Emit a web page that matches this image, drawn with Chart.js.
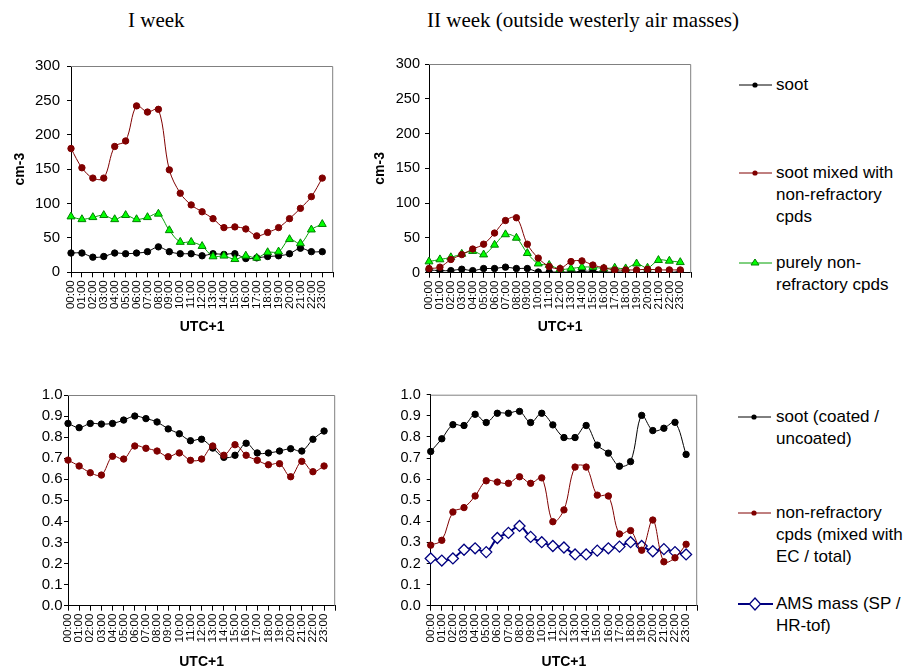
<!DOCTYPE html>
<html lang="en">
<head>
<meta charset="UTF-8">
<title>Soot and non-refractory compounds - diurnal cycles</title>
<script src="https://cdn.jsdelivr.net/npm/chart.js@4.4.1/dist/chart.umd.min.js"></script>
<style>
    body { margin: 0; background: #fff; overflow: hidden; }
    #page { position: relative; width: 912px; height: 666px; font-family: 'Liberation Sans', Arial, sans-serif; }
    .box { position: absolute; }
    .week { position: absolute; font-family: 'Liberation Serif', 'Times New Roman', serif; font-size: 21px; line-height: 21px; color: #000; white-space: nowrap; }
    .leg { position: absolute; font-size: 17px; line-height: 22px; color: #000; }
    .leg svg { position: absolute; top: 0; }
</style>
</head>
<body>
<div id="page">
    <div class="week" style="left:128px; top:10px;">I week</div>
    <div class="week" style="left:427px; top:10px;">II week (outside westerly air masses)</div>

    <canvas id="c1" class="box" style="left:0px; top:50px;" width="350" height="300"></canvas>
    <canvas id="c2" class="box" style="left:370px; top:50px;" width="338" height="300"></canvas>
    <canvas id="c3" class="box" style="left:0px; top:380px;" width="352" height="296"></canvas>
    <canvas id="c4" class="box" style="left:380px; top:380px;" width="334" height="296"></canvas>

    <div id="legends"></div>
</div>

<script>
// hour of day (UTC+1)
const hours = ['00:00', '01:00', '02:00', '03:00', '04:00', '05:00', '06:00', '07:00',
               '08:00', '09:00', '10:00', '11:00', '12:00', '13:00', '14:00', '15:00',
               '16:00', '17:00', '18:00', '19:00', '20:00', '21:00', '22:00', '23:00'];

// number concentrations, cm-3 - week I
const w1Soot  = [28, 28, 22, 23, 28, 27, 28, 30, 37, 30, 27, 27, 24, 27, 26, 27, 20, 21, 23, 24, 27, 35, 30, 30];
const w1Mixed = [180, 152, 137, 137, 183, 191, 242, 233, 237, 149, 115, 98, 88, 78, 65, 66, 63, 53, 58, 65, 78, 93, 110, 137];
const w1Pure  = [81, 77, 80, 83, 77, 83, 77, 80, 85, 61, 44, 44, 38, 23, 24, 19, 24, 21, 29, 30, 48, 42, 62, 70];

// number concentrations, cm-3 - week II
const w2Soot  = [4, 3, 3, 5, 3, 6, 6, 8, 6, 6, 1, 1, 1, 1, 2, 2, 1, 1, 1, 0, 1, 0, 0, 2];
const w2Mixed = [6, 8, 19, 26, 34, 41, 57, 75, 79, 41, 21, 9, 6, 16, 17, 11, 7, 4, 4, 4, 5, 4, 4, 4];
const w2Pure  = [16, 19, 22, 27, 31, 26, 40, 55, 50, 28, 13, 11, 5, 6, 8, 8, 6, 7, 6, 13, 7, 18, 17, 15];

// ratios - week I
const w1SootRatio = [0.865, 0.845, 0.865, 0.862, 0.865, 0.881, 0.900, 0.888, 0.872, 0.839, 0.816, 0.783,
                     0.790, 0.748, 0.704, 0.714, 0.771, 0.725, 0.725, 0.734, 0.745, 0.734, 0.790, 0.829];
const w1NrRatio   = [0.691, 0.663, 0.631, 0.620, 0.709, 0.696, 0.758, 0.747, 0.734, 0.707, 0.725, 0.690,
                     0.696, 0.758, 0.714, 0.764, 0.714, 0.690, 0.669, 0.674, 0.612, 0.685, 0.636, 0.663];

// ratios - week II
const w2SootRatio = [0.731, 0.791, 0.858, 0.854, 0.907, 0.868, 0.912, 0.912, 0.921, 0.868, 0.912, 0.857,
                     0.797, 0.797, 0.854, 0.761, 0.723, 0.661, 0.683, 0.902, 0.830, 0.841, 0.869, 0.717];
const w2NrRatio   = [0.287, 0.310, 0.444, 0.465, 0.520, 0.592, 0.586, 0.580, 0.611, 0.580, 0.606, 0.398,
                     0.454, 0.657, 0.657, 0.524, 0.520, 0.340, 0.356, 0.263, 0.406, 0.208, 0.227, 0.291];
const w2AmsRatio  = [0.224, 0.214, 0.224, 0.265, 0.272, 0.254, 0.321, 0.345, 0.378, 0.326, 0.301, 0.283,
                     0.276, 0.243, 0.243, 0.261, 0.272, 0.280, 0.301, 0.283, 0.258, 0.268, 0.254, 0.243];

const concTicks  = [0, 50, 100, 150, 200, 250, 300];
const ratioTicks = [0, 0.1, 0.2, 0.3, 0.4, 0.5, 0.6, 0.7, 0.8, 0.9, 1.0];

// one empty slot after 23:00 so the axis runs a full day
const axisHours = hours.concat(['']);

Chart.defaults.font.family = "'Liberation Sans', Arial, sans-serif";
Chart.defaults.color = '#000';

const styles = {
    soot:  { borderColor: '#000000', backgroundColor: '#000000', pointBorderColor: '#000000', pointStyle: 'circle', pointRadius: 3.2, borderWidth: 1 },
    mixed: { borderColor: '#800000', backgroundColor: '#800000', pointBorderColor: '#800000', pointStyle: 'circle', pointRadius: 3.2, borderWidth: 1 },
    pure:  { borderColor: '#00a000', backgroundColor: '#00ff00', pointBorderColor: '#008000', pointStyle: 'triangle', pointRadius: 4.6, borderWidth: 1 },
    ams:   { borderColor: '#000080', backgroundColor: '#ffffff', pointBorderColor: '#000080', pointStyle: 'rectRot', pointRadius: 5.5, borderWidth: 2, pointBorderWidth: 1.3 }
};

function series(data, style) {
    return Object.assign({
        data: data,
        tension: 0.35,
        fill: false,
        pointBorderWidth: 1,
        pointBackgroundColor: style.backgroundColor,
        pointHoverRadius: style.pointRadius
    }, style);
}

// gray frame on the top and right of the plot area
const framePlugin = {
    id: 'frame',
    beforeDatasetsDraw(chart) {
        const a = chart.chartArea, ctx = chart.ctx;
        ctx.save();
        ctx.strokeStyle = '#808080';
        ctx.lineWidth = 1;
        ctx.beginPath();
        ctx.moveTo(a.left, a.top + 0.5);
        ctx.lineTo(a.right - 0.5, a.top + 0.5);
        ctx.lineTo(a.right - 0.5, a.bottom);
        ctx.stroke();
        ctx.restore();
    }
};

function makeChart(id, cfg) {
    const yTicks = cfg.yTicks;
    return new Chart(document.getElementById(id), {
        type: 'line',
        data: { labels: axisHours, datasets: cfg.datasets },
        plugins: [framePlugin],
        options: {
            responsive: false,
            animation: false,
            layout: { padding: { top: cfg.padTop, right: cfg.padRight, left: 0, bottom: 0 } },
            plugins: { legend: { display: false }, tooltip: { enabled: false } },
            scales: {
                x: {
                    type: 'category',
                    offset: false,
                    grid: { drawOnChartArea: false, drawTicks: true, tickLength: 5, color: '#000', offset: false },
                    border: { color: '#000', width: 1 },
                    ticks: { autoSkip: false, maxRotation: 90, minRotation: 90, padding: 3, font: { size: 11.5 }, color: '#000' },
                    title: { display: true, text: 'UTC+1', font: { size: 14, weight: 'bold' }, color: '#000', padding: { top: 0, bottom: cfg.xTitlePad } },
                    afterFit: s => { s.height = cfg.xHeight; }
                },
                y: {
                    min: yTicks[0],
                    max: yTicks[yTicks.length - 1],
                    afterBuildTicks: s => { s.ticks = yTicks.map(v => ({ value: v })); },
                    grid: { drawOnChartArea: false, drawTicks: true, tickLength: 4, color: '#000' },
                    border: { color: '#000', width: 1 },
                    ticks: {
                        padding: cfg.yTickPad,
                        font: { size: cfg.yFont },
                        color: '#000',
                        callback: v => cfg.ratio ? v.toFixed(1) : String(v)
                    },
                    title: { display: !!cfg.yTitle, text: cfg.yTitle || '', font: { size: 14, weight: 'bold' }, color: '#000', padding: { top: cfg.yTitlePad || 0, bottom: 0 } },
                    afterFit: s => { s.width = cfg.yWidth; }
                }
            }
        }
    });
}

makeChart('c1', {
    datasets: [series(w1Mixed, styles.mixed), series(w1Pure, styles.pure), series(w1Soot, styles.soot)],
    yTicks: concTicks, yTitle: 'cm-3', yTitlePad: 11.6, yWidth: 71, yTickPad: 7, yFont: 15,
    padTop: 13, padRight: 8, xHeight: 77.7, xTitlePad: 14.6
});

makeChart('c2', {
    datasets: [series(w2Mixed, styles.mixed), series(w2Pure, styles.pure), series(w2Soot, styles.soot)],
    yTicks: concTicks, yTitle: 'cm-3', yTitlePad: 1.6, yWidth: 59, yTickPad: 5, yFont: 14.5,
    padTop: 14, padRight: 8, xHeight: 77.3, xTitlePad: 14.6
});

makeChart('c3', {
    datasets: [series(w1NrRatio, styles.mixed), series(w1SootRatio, styles.soot)],
    yTicks: ratioTicks, ratio: true, yWidth: 68, yTickPad: 1.5, yFont: 15,
    padTop: 15, padRight: 8.7, xHeight: 70.3, xTitlePad: 5.6
});

makeChart('c4', {
    datasets: [series(w2NrRatio, styles.mixed), series(w2AmsRatio, styles.ams), series(w2SootRatio, styles.soot)],
    yTicks: ratioTicks, ratio: true, yWidth: 50.7, yTickPad: 6, yFont: 14.5,
    padTop: 14, padRight: 8, xHeight: 70.3, xTitlePad: 5.6
});

// legend entries beside each row of charts
const legendItems = [
    { style: 'soot',  lines: ['soot'], x: 739, y: 85 },
    { style: 'mixed', lines: ['soot mixed with', 'non-refractory', 'cpds'], x: 739, y: 173 },
    { style: 'pure',  lines: ['purely non-', 'refractory cpds'], x: 739, y: 263 },
    { style: 'soot',  lines: ['soot (coated /', 'uncoated)'], x: 738, y: 417 },
    { style: 'mixed', lines: ['non-refractory', 'cpds (mixed with', 'EC / total)'], x: 738, y: 513 },
    { style: 'ams',   lines: ['AMS mass (SP /', 'HR-tof)'], x: 738, y: 604 }
];

function legendSymbol(key) {
    const st = styles[key];
    const lw = key === 'ams' ? 2 : 1;
    let mark;
    if (key === 'pure') {
        mark = '<polygon points="16,7 20,13 12,13" fill="' + st.backgroundColor + '" stroke="' + st.pointBorderColor + '" stroke-width="1"/>';
    } else if (key === 'ams') {
        mark = '<polygon points="17,5 22.5,11 17,17 11.5,11" fill="#fff" stroke="' + st.pointBorderColor + '" stroke-width="1.3"/>';
    } else {
        mark = '<circle cx="16" cy="11" r="2.6" fill="' + st.backgroundColor + '"/>';
    }
    const w = key === 'ams' ? 35 : 33;
    return '<svg width="' + w + '" height="22" viewBox="0 0 ' + w + ' 22"><line x1="0" y1="11" x2="' + w + '" y2="11" stroke="' + st.borderColor + '" stroke-width="' + lw + '"/>' + mark + '</svg>';
}

const legendBox = document.getElementById('legends');
legendItems.forEach(item => {
    const div = document.createElement('div');
    div.className = 'leg';
    div.style.left = item.x + 'px';
    div.style.top = (item.y - 11) + 'px';
    div.innerHTML = legendSymbol(item.style) +
        '<div style="margin-left:' + (776 - item.x) + 'px">' + item.lines.join('<br>') + '</div>';
    legendBox.appendChild(div);
});
</script>
</body>
</html>
